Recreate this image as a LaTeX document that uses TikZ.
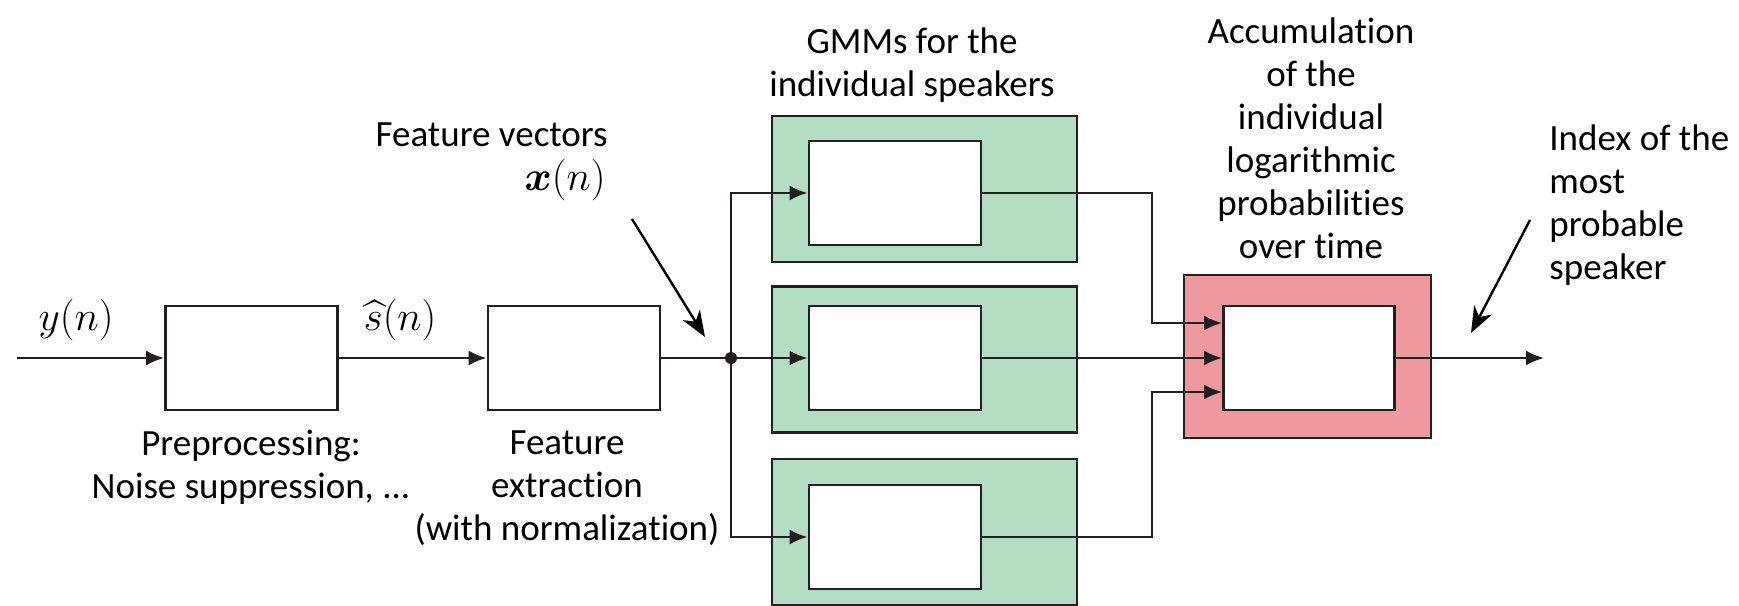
\documentclass[tikz,border=0pt]{standalone}
\usepackage{amsmath}
\usepackage{fontspec}
\setmainfont{Carlito}[Ligatures=NoCommon]
\usetikzlibrary{arrows.meta}
\definecolor{ink}{HTML}{231F20}
\definecolor{gmmgreen}{HTML}{B4DEC4}
\definecolor{accred}{HTML}{EE9A9C}
\begin{document}
\begin{tikzpicture}[x=0.5pt,y=-0.5pt,
  font=\fontsize{18.5}{21.5}\selectfont,
  blk/.style={draw=ink, line width=1.4pt, fill=white, inner sep=0pt,
    minimum width=86pt, minimum height=52pt},
  gmm/.style={draw=ink, line width=1.4pt, fill=gmmgreen, inner sep=0pt,
    minimum width=152.5pt, minimum height=73pt},
  acc/.style={draw=ink, line width=1.4pt, fill=accred, inner sep=0pt,
    minimum width=123.5pt, minimum height=81.5pt},
  wire/.style={draw=ink, line width=1.2pt},
  arr/.style={wire, -{Latex[length=9pt,width=7.5pt]}},
  pointer/.style={draw=black, line width=1.2pt,
    -{Stealth[length=13pt,width=10pt,inset=4pt]}},
  lbl/.style={inner sep=0pt, align=center, text=black},
  mathlbl/.style={lbl, font=\fontsize{21.5}{25}\selectfont}]
\useasboundingbox (0,0) rectangle (1739,605);

% processing blocks
\node[blk] (pre) at (251.5,358) {};
\node[blk] (fe)  at (574,358) {};

% speaker models
\node[gmm] (g1o) at (924.5,189) {};
\node[gmm] (g2o) at (924.5,359.5) {};
\node[gmm] (g3o) at (924.5,532) {};
\node[blk] (g1) at (895,193) {};
\node[blk] (g2) at (895,358) {};
\node[blk] (g3) at (895,537) {};

% accumulation block
\node[acc] (acco) at (1307.5,356.5) {};
\node[blk, minimum width=85.5pt] (acc) at (1309,358) {};

% branching point
\node[circle, fill=ink, inner sep=0pt, minimum size=6pt] (dot) at (731,358) {};

% signal flow
\coordinate (in)  at (17,358);
\coordinate (out) at (1544,358);
\coordinate (j1)  at (1152,323);
\coordinate (j3)  at (1152,392);
\draw[arr] (in) -- (pre.west);
\draw[arr] (pre.east) -- (fe.west);
\draw[wire] (fe.east) -- (dot.center);
\draw[arr] (dot.center) -- (g2.west);
\draw[arr] (dot.center) |- (g1.west);
\draw[arr] (dot.center) |- (g3.west);
\draw[arr] (g1.east) -| (j1) -- (acc.west |- j1);
\draw[arr] (g2.east) -- (acc.west);
\draw[arr] (g3.east) -| (j3) -- (acc.west |- j3);
\draw[arr] (acc.east) -- (out);

% signal labels
\node[mathlbl] (ylab) at (76,320) {$y(n)$};
\node[mathlbl] (slab) at (400,320) {$\widehat{s}(n)$};

% block descriptions
\node[lbl] (prelab) at (251,467) {Preprocessing:\\Noise suppression, ...};
\node[lbl] (felab) at (567,488) {Feature\\extraction\\(with normalization)};
\node[lbl] (gmmlab) at (912,65.5) {GMMs for the\\individual speakers};
\node[lbl] (acclab) at (1311,138) {Accumulation\\of the\\individual\\logarithmic\\probabilities\\over time};
\node[lbl, align=left, anchor=west] (idxlab) at (1549,205.5) {Index of the\\most\\probable\\speaker};

% feature vector annotation
\node[lbl, anchor=east] (fvlab) at (608,135) {Feature vectors};
\node[mathlbl, anchor=east] (xlab) at (606,180) {$\boldsymbol{x}(n)$};
\coordinate (fvs) at (632,219);
\coordinate (fvt) at (705,337);
\draw[pointer] (fvs) -- (fvt);

% output annotation
\coordinate (ids) at (1530,220);
\coordinate (idt) at (1471,333);
\draw[pointer] (ids) -- (idt);
\end{tikzpicture}
\end{document}
